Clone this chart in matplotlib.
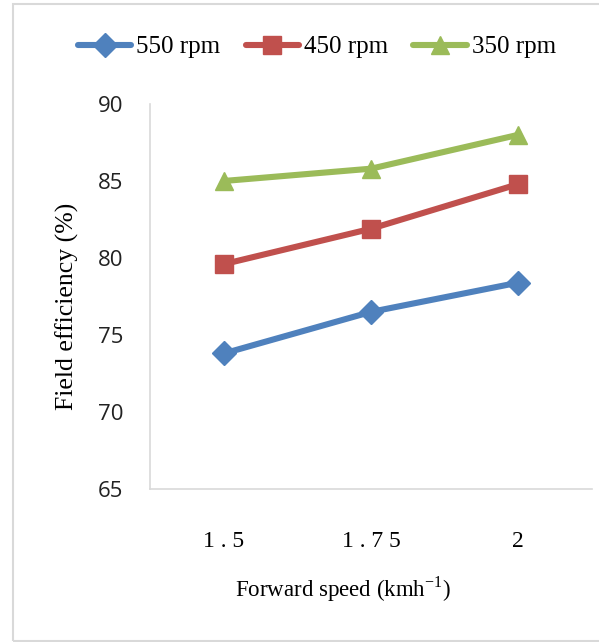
import matplotlib
matplotlib.use("Agg")
import matplotlib.pyplot as plt
from matplotlib.patches import Rectangle

speeds = ["1 . 5", "1 . 7 5", "2"]
series_labels = ["550 rpm", "450 rpm", "350 rpm"]
eff_550 = [73.8, 76.5, 78.4]
eff_450 = [79.6, 81.9, 84.8]
eff_350 = [85.0, 85.8, 88.0]

colors = ["#4f81bd", "#c0504d", "#9bbb59"]
markers = ["D", "s", "^"]
msizes = [12, 12.5, 13.5]

W, H = 599, 642
fig = plt.figure(figsize=(W / 100, H / 100), dpi=100)
fig.patch.set_facecolor("white")

# outer chart frame
fig.add_artist(Rectangle((12.5 / W, 1.5 / H), (W + 5) / W, (H - 5) / H,
                         transform=fig.transFigure, fill=False,
                         edgecolor="#d9d9d9", linewidth=1.5))

ax = fig.add_axes([150 / W, (H - 489) / H, (592 - 150) / W, (489 - 104) / H])
x = list(range(len(speeds)))
for vals, lab, c, m, ms in zip([eff_550, eff_450, eff_350], series_labels,
                               colors, markers, msizes):
    ax.plot(x, vals, color=c, marker=m, markersize=ms, linewidth=4.4,
            label=lab, solid_capstyle="round")

ax.set_xlim(-0.5, 2.5)
ax.set_ylim(65, 90)
ax.set_yticks(range(65, 91, 5))
ax.set_xticks(x)
ax.set_xticklabels(speeds, fontfamily="Liberation Serif", fontsize=17)
for t in ax.get_yticklabels():
    t.set_fontfamily("Open Sans")
    t.set_fontsize(16)
    t.set_color("#222222")
ax.tick_params(length=0)
ax.tick_params(axis="y", pad=19)
ax.tick_params(axis="x", pad=30)
for s in ["top", "right"]:
    ax.spines[s].set_visible(False)
for s in ["left", "bottom"]:
    ax.spines[s].set_color("#d9d9d9")
    ax.spines[s].set_linewidth(1.2)

xl = ax.set_xlabel("Forward speed (kmh$^{\\mathregular{-1}}$)",
                   fontfamily="Liberation Serif", fontsize=16.5)
xl.set_verticalalignment("center")
ax.xaxis.set_label_coords((343 - 150) / 442, (489 - 589) / 385)

yl = ax.set_ylabel("Field efficiency (%)", fontfamily="Liberation Serif",
                   fontsize=18.5)
yl.set_verticalalignment("center")
ax.yaxis.set_label_coords((67 - 150) / 442, (489 - 306) / 385)

leg = fig.legend(loc="center", bbox_to_anchor=(317 / W, 1 - 47 / H), ncol=3,
                 frameon=False, prop={"family": "Liberation Serif", "size": 18},
                 handlelength=2.15, handletextpad=0.2, columnspacing=1.0,
                 borderpad=0, borderaxespad=0)

fig.savefig("out.png", dpi=100)
